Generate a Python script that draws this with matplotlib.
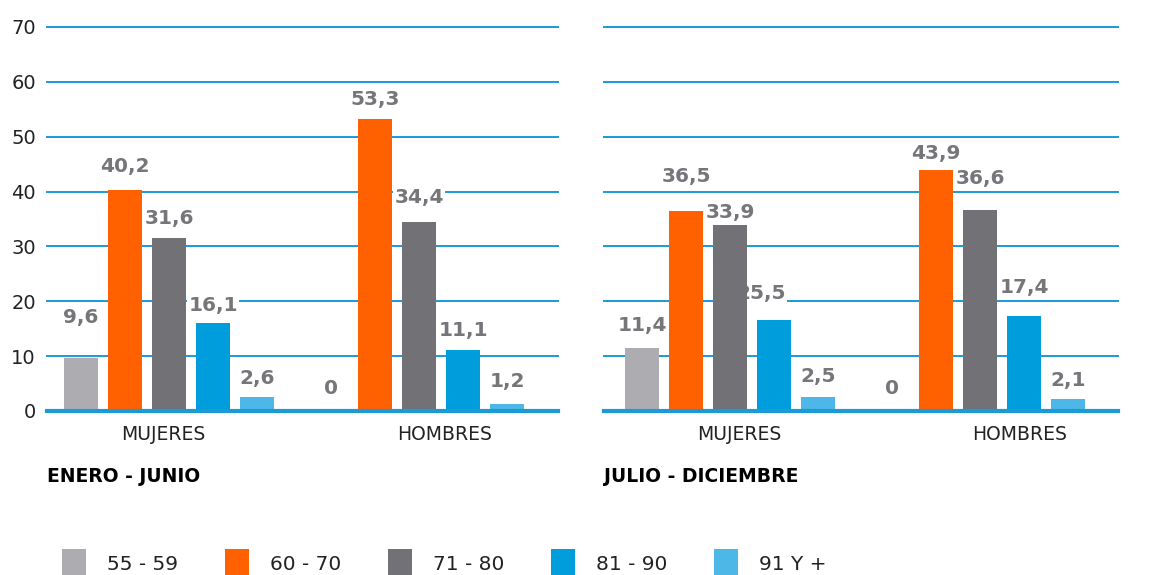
import numpy as np
import matplotlib.pyplot as plt
from matplotlib.patches import Rectangle

# data
groups = ["MUJERES", "HOMBRES"]
ages = ["55 - 59", "60 - 70", "71 - 80", "81 - 90", "91 Y +"]
colors = ["#adacb1", "#ff6000", "#727176", "#009ddc", "#4db8e8"]

ene_jun = np.array([[9.6, 40.2, 31.6, 16.1, 2.6],
                    [0.0, 53.3, 34.4, 11.1, 1.2]])
ene_jun_lbl = [["9,6", "40,2", "31,6", "16,1", "2,6"],
               ["0", "53,3", "34,4", "11,1", "1,2"]]

jul_dic = np.array([[11.4, 36.5, 33.9, 16.6, 2.5],
                    [0.0, 43.9, 36.6, 17.4, 2.1]])
jul_dic_lbl = [["11,4", "36,5", "33,9", "25,5", "2,5"],
               ["0", "43,9", "36,6", "17,4", "2,1"]]

yticks = [0, 10, 20, 30, 40, 50, 60, 70]

# label placement (pixels between bar top and label baseline), as in the original
ene_jun_gap = [[35, 18, 14, 12, 13], [17, 14, 19, 14, 17]]
jul_dic_gap = [[17, 29, 7, 21, 15], [17, 11, 26, 23, 13]]

grid_c = "#1b9ad6"
lbl_c = "#76757a"

fig = plt.figure(figsize=(11.5, 5.75), dpi=100)
W, H = 1150, 575


def panel(rect, vals, lbls, gaps, title, xlim, tickpos, show_y):
    ax = fig.add_axes(rect)
    x = np.arange(len(groups))
    step, width = 0.176, 0.136
    second = title.startswith("JULIO")
    for i in range(len(ages)):
        xs = x + (i - 2) * step
        ax.bar(xs, vals[:, i], width, color=colors[i], zorder=2)
        for g in range(len(groups)):
            # label of the 81-90 bar in the second panel sits behind the grey bar
            odd = second and g == 0 and i == 3
            z = 1.5 if odd else 3
            dx = -13 if odd else 0
            ax.annotate(lbls[g][i], (xs[g], vals[g, i]),
                        xytext=(dx * 0.72, gaps[g][i] * 0.72),
                        textcoords="offset points", ha="center", va="baseline",
                        fontsize=14.5, fontweight="bold", color=lbl_c, zorder=z,
                        bbox=dict(facecolor="white", edgecolor="none", pad=1))
    for t in yticks[1:]:
        ax.axhline(t, color=grid_c, lw=1.4, zorder=1, clip_on=False)
    ax.axhline(0, color=grid_c, lw=3, zorder=2.5, clip_on=False)
    ax.set_ylim(0, 70)
    ax.set_xlim(*xlim)
    ax.set_xticks(tickpos)
    ax.set_xticklabels(groups, fontsize=13.5, color="#222222")
    ax.tick_params(axis="x", length=0, pad=10)
    ax.set_yticks(yticks)
    if show_y:
        ax.tick_params(axis="y", length=0, pad=8, labelsize=14, labelcolor="#222222")
    else:
        ax.tick_params(axis="y", length=0, labelleft=False)
    for s in ax.spines.values():
        s.set_visible(False)
    ax.text(0, -0.17, title, transform=ax.transAxes, fontsize=13.5,
            fontweight="bold", color="black", va="center", ha="left")
    return ax


bottom = 1 - 411 / H
height = 384 / H
panel([47 / W, bottom, 511 / W, height], ene_jun, ene_jun_lbl, ene_jun_gap,
      "ENERO - JUNIO", (-0.488, 1.556), [-0.024, 1.104], True)
panel([604 / W, bottom, 514 / W, height], jul_dic, jul_dic_lbl, jul_dic_gap,
      "JULIO - DICIEMBRE", (-0.504, 1.552), [0.038, 1.16], False)

# legend row at the bottom
for i, (lab, c) in enumerate(zip(ages, colors)):
    x0 = (62 + 163 * i) / W
    fig.patches.append(Rectangle((x0, 0), 24 / W, 26 / H, transform=fig.transFigure,
                                 facecolor=c, edgecolor="none"))
    fig.text(x0 + 45 / W, 1 - 565 / H, lab, fontsize=14.5, color="#222222",
             va="center", ha="left")

fig.savefig("out.png", dpi=100)
